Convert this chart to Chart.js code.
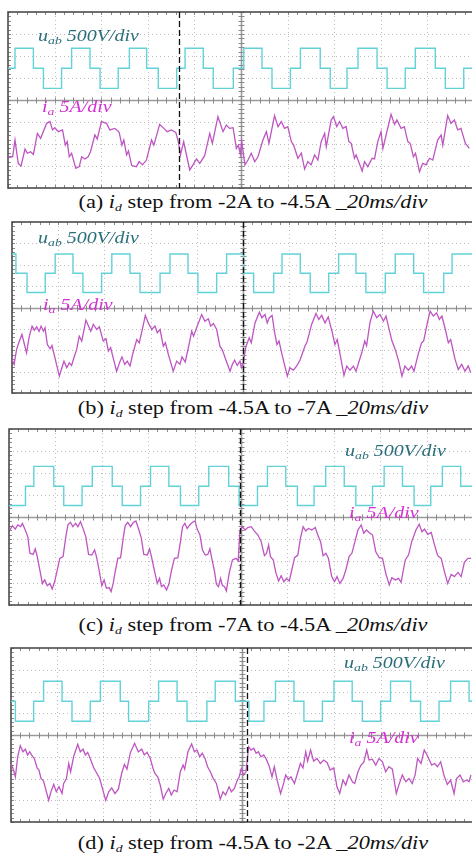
<!DOCTYPE html>
<html>
<head>
<meta charset="utf-8">
<script src="https://cdn.jsdelivr.net/npm/chart.js@4.4.1/dist/chart.umd.min.js"></script>
<style>
  html, body { margin: 0; padding: 0; background: #fff; }
  body { position: relative; width: 472px; height: 854px; overflow: hidden; font-family: "Liberation Serif", "Times New Roman", serif; }
  canvas { position: absolute; }
  .lbl { position: absolute; font-style: italic; font-size: 16px; line-height: 16px; white-space: nowrap; transform: scaleX(1.25); transform-origin: 0 0; }
  .lbl sub, .cap sub { font-size: 11px; vertical-align: -3px; line-height: 0; }
  .u { color: #2b6e7b; }
  .i { color: #d42fd2; }
  .cap { position: absolute; left: 53px; width: 400px; text-align: center; font-size: 18px; line-height: 18px; white-space: nowrap; transform: scaleX(1.24); color: #111; }
</style>
</head>
<body>
<canvas id="scopeA"></canvas>
<canvas id="scopeB"></canvas>
<canvas id="scopeC"></canvas>
<canvas id="scopeD"></canvas>

<div class="lbl u" style="left:38px;top:28px">u<sub>ab</sub> 500V/div</div>
<div class="lbl i" style="left:42px;top:99px">i<sub>a</sub> 5A/div</div>
<div class="lbl u" style="left:38px;top:230px">u<sub>ab</sub> 500V/div</div>
<div class="lbl i" style="left:43px;top:297px">i<sub>a</sub> 5A/div</div>
<div class="lbl u" style="left:345px;top:443px">u<sub>ab</sub> 500V/div</div>
<div class="lbl i" style="left:349px;top:505px">i<sub>a</sub> 5A/div</div>
<div class="lbl u" style="left:344px;top:655px">u<sub>ab</sub> 500V/div</div>
<div class="lbl i" style="left:349px;top:730px">i<sub>a</sub> 5A/div</div>

<div class="cap" style="top:193px">(a) <i>i<sub>d</sub></i> step from -2A to -4.5A _<i>20ms/div</i></div>
<div class="cap" style="top:399px">(b) <i>i<sub>d</sub></i> step from -4.5A to -7A _<i>20ms/div</i></div>
<div class="cap" style="top:616px">(c) <i>i<sub>d</sub></i> step from -7A to -4.5A _<i>20ms/div</i></div>
<div class="cap" style="top:834px">(d) <i>i<sub>d</sub></i> step from -4.5A to -2A _<i>20ms/div</i></div>

<script>
// time in ms (20 ms/div, 10 div), traces in screen divisions (8 div)

// u_ab step waveforms: switching instants and level held after each
const uabA_t = [0, 3.0, 10.9, 15.2, 23.0, 27.3, 35.2, 39.5, 47.3, 52.1, 59.5, 64.5, 72.4, 76.0, 83.8, 88.1, 96.7, 101.2, 109.0, 113.3, 121.2, 125.5, 134.0, 138.3, 145.5, 150.2, 158.4, 162.7, 170.5, 174.8, 183.4, 187.7, 195.6, 200];
const uabA_v = [1.44, 2.35, 1.44, 0.53, 1.44, 2.35, 1.44, 0.53, 1.44, 2.35, 1.44, 0.53, 1.44, 2.35, 1.44, 0.53, 1.44, 2.35, 1.44, 0.53, 1.44, 2.35, 1.44, 0.53, 1.44, 2.35, 1.44, 0.53, 1.44, 2.35, 1.44, 0.53, 1.44, 1.44];

const uabB_t = [0, 1.7, 6.5, 14.4, 18.7, 26.4, 30.7, 38.8, 43.2, 51.1, 55.4, 64.1, 68.4, 76.2, 80.5, 88.6, 92.9, 100.3, 104.6, 113.3, 116.9, 124.8, 129.1, 137.1, 141.4, 148.9, 153.2, 161.6, 165.9, 173.9, 178.2, 186.9, 190.5, 200];
const uabB_v = [2.50, 1.60, 0.70, 1.60, 2.50, 1.60, 0.70, 1.60, 2.50, 1.60, 0.70, 1.60, 2.50, 1.60, 0.70, 1.60, 2.50, 1.60, 0.70, 1.60, 2.50, 1.60, 0.70, 1.60, 2.50, 1.60, 0.70, 1.60, 2.50, 1.60, 0.70, 1.60, 2.50, 2.50];

const uabC_t = [0, 7.1, 10.7, 19.3, 23.6, 31.5, 35.9, 44.5, 48.8, 56.7, 61.0, 68.9, 73.9, 81.8, 86.1, 94.7, 99.2, 107.1, 111.4, 119.3, 124.3, 131.5, 136.5, 144.5, 149.5, 156.7, 161.7, 169.6, 174.6, 181.8, 186.8, 194.7, 200];
const uabC_v = [0.52, 1.40, 2.30, 1.40, 0.52, 1.40, 2.30, 1.40, 0.52, 1.40, 2.30, 1.40, 0.52, 1.40, 2.30, 1.40, 0.52, 1.40, 2.30, 1.40, 0.52, 1.40, 2.30, 1.40, 0.52, 1.40, 2.30, 1.40, 0.52, 1.40, 2.30, 1.40, 1.40];

const uabD_t = [0, 1.9, 9.8, 14.1, 22.1, 26.4, 34.3, 38.7, 47.3, 50.9, 59.6, 63.9, 71.9, 76.2, 84.8, 88.4, 97.1, 103.0, 109.5, 114.5, 122.5, 126.8, 134.8, 139.8, 147.7, 152.1, 160.0, 164.3, 173.0, 177.3, 185.3, 190.3, 198.3, 200];
const uabD_v = [1.55, 0.63, 1.55, 2.47, 1.55, 0.63, 1.55, 2.47, 1.55, 0.63, 1.55, 2.47, 1.55, 0.63, 1.55, 2.47, 1.55, 0.63, 1.55, 2.47, 1.55, 0.63, 1.55, 2.47, 1.55, 0.63, 1.55, 2.47, 1.55, 0.63, 1.55, 2.47, 1.55, 1.55];

// i_a phase current traces (sample time, value)
const iaA_t = [0.1, 2.0, 3.0, 4.4, 5.6, 7.3, 8.3, 9.7, 10.9, 12.6,
  14.0, 16.6, 18.0, 19.1, 20.1, 21.6, 23.4, 24.6, 25.4, 26.3,
  27.3, 29.1, 30.6, 31.6, 33.0, 34.4, 35.4, 37.3, 38.3, 40.1,
  42.3, 43.7, 45.9, 47.7, 48.9, 49.7, 50.9, 51.7, 53.1, 55.1,
  56.3, 57.7, 59.4, 61.6, 62.6, 65.1, 66.9, 68.3, 70.1, 72.0,
  73.1, 74.0, 75.4, 76.6, 78.0, 79.4, 80.9, 82.3, 84.4, 86.6,
  87.7, 90.1, 92.3, 93.7, 95.1, 96.6, 98.0, 98.9, 99.7, 100.3,
  101.7, 103.0, 104.4, 105.9, 107.3, 109.4, 110.9, 112.0, 114.4, 115.9,
  117.3, 118.7, 120.1, 121.6, 122.6, 124.4, 125.9, 127.3, 128.7, 130.1,
  131.6, 133.0, 134.4, 135.9, 136.6, 138.7, 139.7, 141.1, 142.3, 143.7,
  145.1, 146.3, 147.3, 148.7, 149.4, 152.0, 153.0, 154.4, 156.3, 157.3,
  158.7, 160.1, 160.9, 164.4, 165.9, 166.9, 168.7, 170.1, 171.6, 172.6,
  174.0, 174.9, 176.6, 178.0, 179.4, 180.9, 182.3, 184.4, 185.9, 186.6,
  188.7, 190.1, 191.6, 193.0, 194.4, 196.3, 198.0];
const iaA_v = [-2.58, -2.58, -1.82, -2.88, -3.00, -2.23, -2.42, -2.35, -2.47, -1.52,
  -1.74, -1.06, -0.98, -1.36, -1.26, -1.44, -1.36, -2.05, -1.89, -2.58,
  -2.42, -3.11, -3.03, -2.58, -2.68, -2.58, -2.35, -1.59, -1.77, -0.98,
  -1.06, -1.36, -1.29, -1.47, -2.05, -1.82, -2.50, -2.32, -2.98, -3.03,
  -2.80, -2.95, -2.73, -1.82, -2.05, -1.11, -1.29, -1.44, -1.36, -1.47,
  -1.89, -2.50, -1.89, -2.50, -3.18, -2.95, -2.68, -2.88, -2.53, -1.52,
  -1.97, -0.76, -1.44, -1.14, -1.29, -1.26, -2.20, -2.05, -2.47, -1.89,
  -2.95, -2.73, -2.42, -2.80, -2.58, -1.82, -1.44, -1.97, -0.71, -1.21,
  -0.98, -1.29, -1.21, -1.89, -2.05, -2.65, -2.42, -3.14, -2.80, -2.95,
  -2.50, -2.73, -1.89, -1.52, -2.12, -0.91, -0.76, -1.21, -0.98, -1.29,
  -1.21, -1.89, -1.97, -2.65, -2.50, -3.23, -2.80, -3.03, -2.65, -2.68,
  -1.89, -1.44, -2.20, -0.65, -1.11, -0.91, -1.29, -1.21, -1.89, -1.97,
  -2.58, -2.42, -3.26, -2.88, -2.95, -2.65, -2.73, -1.82, -1.59, -2.05,
  -0.71, -1.06, -0.91, -1.36, -1.29, -1.97, -2.20];

const iaB_t = [0, 0.9, 2.0, 3.2, 4.3, 5.2, 6.3, 7.5, 8.7, 9.7,
  10.7, 11.7, 12.6, 13.6, 14.3, 15.3, 16.5, 17.3, 18.5, 20.5,
  21.6, 22.5, 23.7, 24.8, 25.8, 26.8, 28.0, 29.1, 30.2, 32.0,
  33.0, 34.1, 35.2, 36.7, 37.8, 39.5, 40.7, 41.7, 42.7, 43.9,
  45.3, 46.8, 47.6, 48.8, 49.9, 51.1, 52.2, 54.0, 55.1, 56.9,
  57.7, 59.0, 60.5, 61.9, 62.9, 64.1, 65.5, 66.4, 67.7, 69.8,
  71.3, 72.7, 73.6, 75.0, 76.5, 77.8, 78.6, 79.9, 82.1, 83.5,
  85.0, 86.0, 87.2, 88.6, 90.0, 91.1, 92.4, 94.4, 95.4, 96.4,
  97.5, 98.7, 99.3, 100.1, 101.3, 102.7, 103.6, 105.2, 107.1, 108.2,
  109.5, 110.5, 111.4, 112.6, 113.7, 114.7, 115.6, 116.9, 118.3, 119.2,
  120.3, 121.8, 123.2, 124.7, 126.8, 127.7, 129.7, 131.6, 132.8, 134.1,
  135.5, 136.9, 138.5, 139.8, 140.8, 142.3, 143.7, 144.9, 146.3, 147.8,
  148.9, 151.4, 152.7, 153.5, 155.0, 156.4, 157.9, 159.3, 160.8, 161.9,
  163.6, 164.5, 165.9, 167.4, 168.8, 170.1, 171.6, 173.0, 174.0, 176.0,
  177.3, 178.2, 179.5, 181.0, 182.4, 183.8, 185.0, 186.1, 187.6, 188.9,
  189.9, 191.8, 193.2, 194.7, 196.1, 197.5, 198.6];
const iaB_v = [-2.43, -2.66, -1.96, -1.57, -1.26, -1.65, -2.12, -1.34, -0.87, -1.06,
  -0.90, -1.12, -0.87, -1.11, -0.95, -1.73, -1.93, -1.78, -2.31, -3.21,
  -2.82, -2.51, -2.82, -2.59, -2.71, -2.35, -1.96, -1.34, -1.57, -0.59,
  -0.84, -1.11, -0.79, -1.03, -0.90, -1.57, -1.46, -2.04, -1.88, -2.40,
  -2.98, -2.51, -2.31, -2.66, -2.51, -2.74, -2.20, -1.50, -1.65, -0.79,
  -0.37, -0.72, -1.03, -0.87, -1.18, -1.03, -1.81, -1.65, -2.20, -2.98,
  -2.51, -2.66, -2.31, -2.55, -1.81, -1.11, -1.34, -0.95, -0.33, -0.64,
  -0.53, -0.87, -0.75, -1.03, -1.81, -1.99, -2.40, -2.98, -2.66, -2.46,
  -2.71, -2.51, -2.82, -2.59, -1.81, -1.42, -1.65, -0.72, -0.22, -0.48,
  -0.33, -0.72, -0.48, -0.37, -1.18, -1.73, -1.57, -2.20, -2.82, -3.21,
  -2.82, -2.93, -2.74, -2.46, -1.81, -1.62, -0.79, -0.28, -0.56, -0.37,
  -0.72, -0.44, -1.11, -1.73, -1.50, -2.35, -3.18, -2.74, -2.93, -2.74,
  -2.98, -2.12, -1.57, -1.78, -0.69, -0.17, -0.48, -0.33, -0.64, -0.40,
  -1.18, -1.57, -1.96, -2.51, -3.21, -2.74, -2.93, -2.74, -2.98, -2.12,
  -1.65, -1.57, -0.87, -0.17, -0.40, -0.25, -0.56, -0.40, -1.03, -1.65,
  -1.50, -2.43, -2.90, -2.66, -2.98, -2.74, -3.05];

const iaC_t = [0.4, 1.5, 2.7, 3.8, 5.0, 5.8, 7.0, 8.1, 9.0, 10.4,
  11.3, 12.1, 13.3, 14.4, 15.4, 16.5, 17.6, 18.6, 19.6, 20.8,
  21.9, 23.3, 24.5, 25.4, 26.5, 27.5, 28.7, 29.7, 30.8, 32.0,
  33.1, 34.3, 35.7, 36.9, 37.7, 38.9, 40.0, 41.0, 42.0, 43.2,
  44.0, 44.9, 45.9, 46.9, 48.1, 49.2, 50.1, 51.2, 52.4, 53.5,
  54.7, 55.8, 57.0, 58.1, 59.6, 60.6, 61.4, 62.7, 63.9, 64.9,
  65.7, 66.7, 67.9, 68.9, 70.0, 71.3, 72.8, 73.9, 74.8, 75.8,
  76.8, 77.9, 79.1, 80.2, 81.1, 82.3, 83.4, 84.6, 85.7, 86.6,
  87.4, 88.6, 89.4, 90.3, 91.2, 92.0, 92.9, 93.7, 94.9, 96.3,
  97.8, 98.8, 99.5, 100.6, 101.8, 102.9, 104.4, 105.8, 107.3, 108.7,
  110.1, 111.0, 111.9, 112.7, 113.9, 115.0, 116.2, 117.3, 118.5, 119.6,
  120.8, 121.9, 123.1, 124.5, 125.6, 126.8, 127.9, 129.1, 130.5, 132.0,
  133.1, 134.3, 135.4, 136.6, 137.7, 139.1, 140.3, 141.4, 142.6, 144.0,
  145.2, 146.6, 147.8, 148.9, 150.4, 151.8, 152.9, 154.1, 155.2, 156.7,
  158.1, 159.6, 161.0, 162.4, 163.9, 165.0, 166.5, 167.9, 169.0, 170.8,
  172.2, 173.6, 175.4, 176.8, 178.0, 179.1, 180.5, 182.0, 183.4, 184.8,
  186.3, 187.7, 189.1, 190.6, 192.0, 193.5, 194.9, 196.3, 197.8, 199.2];
const iaC_v = [-0.59, -0.39, -0.55, -0.36, -0.44, -0.29, -0.59, -0.89, -1.65, -1.70,
  -1.45, -1.76, -2.41, -3.02, -2.86, -3.12, -3.02, -3.27, -2.97, -2.41,
  -1.88, -1.80, -0.89, -0.36, -0.24, -0.44, -0.29, -0.44, -0.21, -0.55,
  -0.89, -1.70, -1.73, -1.50, -1.80, -2.45, -3.12, -2.86, -3.24, -3.21,
  -3.39, -3.02, -2.41, -1.88, -1.85, -0.97, -0.39, -0.24, -0.44, -0.26,
  -0.18, -0.52, -0.94, -1.70, -1.73, -1.45, -1.80, -2.45, -3.02, -2.79,
  -3.17, -3.09, -3.32, -3.06, -2.45, -1.88, -1.85, -1.12, -0.44, -0.29,
  -0.52, -0.36, -0.24, -0.18, -0.55, -0.82, -1.50, -1.73, -1.70, -1.45,
  -1.88, -2.48, -3.06, -3.17, -2.79, -3.12, -3.17, -3.36, -2.56, -1.95,
  -1.88, -2.00, -0.67, -0.44, -0.59, -0.48, -0.44, -0.64, -0.82, -1.12,
  -1.76, -1.65, -1.27, -1.80, -1.95, -2.52, -2.91, -2.67, -2.94, -2.79,
  -2.91, -2.41, -1.85, -1.73, -0.97, -0.44, -0.64, -0.52, -0.59, -0.48,
  -0.82, -1.12, -1.76, -1.65, -1.88, -2.71, -2.94, -2.71, -3.02, -2.79,
  -2.41, -1.80, -1.65, -1.20, -0.59, -0.36, -0.74, -0.59, -0.70, -0.82,
  -1.58, -1.85, -1.88, -2.56, -3.09, -2.76, -2.86, -2.79, -2.97, -1.95,
  -1.73, -1.12, -0.59, -0.33, -0.67, -0.55, -0.79, -0.70, -1.27, -1.76,
  -1.88, -2.48, -3.02, -2.61, -2.71, -2.52, -2.71, -2.06, -1.88, -1.88];

const iaD_t = [0, 0.9, 1.9, 2.9, 4.0, 5.2, 6.2, 7.2, 8.1, 9.1,
  10.1, 11.3, 12.1, 13.0, 14.1, 16.3, 17.3, 18.5, 19.6, 20.8,
  22.1, 22.8, 24.0, 25.0, 25.8, 27.1, 28.9, 30.0, 31.2, 32.2,
  33.2, 34.3, 35.8, 37.2, 38.4, 39.5, 41.0, 42.3, 43.6, 45.0,
  46.5, 47.9, 49.1, 50.2, 51.7, 53.5, 55.1, 56.6, 57.7, 58.9,
  60.3, 61.5, 62.3, 63.5, 64.6, 65.9, 67.0, 68.3, 69.4, 70.6,
  71.9, 73.3, 74.5, 75.2, 76.6, 78.2, 79.4, 80.5, 81.7, 82.8,
  84.0, 85.1, 86.3, 87.4, 88.9, 90.6, 91.8, 92.9, 94.4, 95.4,
  96.7, 98.0, 98.8, 99.7, 100.7, 101.7, 102.9, 103.9, 105.1, 106.1,
  107.1, 108.2, 109.4, 110.5, 111.7, 113.0, 114.0, 115.3, 116.7, 117.9,
  118.9, 120.2, 121.2, 122.7, 124.0, 125.3, 126.4, 127.6, 128.4, 129.7,
  131.0, 132.5, 133.9, 135.4, 136.8, 138.2, 139.7, 141.1, 142.3, 143.7,
  144.9, 146.3, 147.8, 148.8, 150.2, 151.5, 152.7, 154.0, 155.0, 156.4,
  157.9, 159.3, 160.8, 162.2, 163.6, 165.1, 166.8, 168.0, 169.4, 170.9,
  172.3, 173.7, 175.0, 176.0, 177.5, 178.9, 180.1, 181.1, 182.1, 183.4,
  184.6, 186.0, 187.4, 188.9, 190.3, 191.8, 192.9, 194.4, 195.8, 197.3,
  198.3, 199.1];
const iaD_v = [-1.31, -1.54, -1.92, -1.00, -0.49, -0.77, -0.65, -0.92, -0.77, -0.95,
  -1.08, -1.51, -1.61, -2.00, -2.12, -3.00, -2.61, -2.27, -2.61, -2.38,
  -2.69, -2.23, -2.00, -1.31, -1.69, -1.00, -0.43, -0.77, -0.65, -0.92,
  -0.80, -1.08, -1.51, -1.77, -2.00, -2.43, -3.00, -2.61, -2.43, -2.69,
  -2.49, -1.77, -1.35, -1.57, -0.80, -0.38, -0.77, -0.65, -0.92, -0.80,
  -1.08, -1.54, -1.77, -1.92, -2.30, -2.95, -2.69, -2.46, -2.76, -2.53,
  -2.61, -1.69, -1.38, -1.57, -0.77, -0.41, -0.77, -0.69, -1.00, -0.84,
  -1.08, -1.46, -1.69, -1.97, -2.23, -2.95, -2.61, -2.76, -2.38, -2.61,
  -2.46, -2.07, -1.92, -1.54, -1.84, -1.69, -0.54, -0.69, -0.61, -0.84,
  -0.77, -1.00, -0.92, -1.11, -1.41, -1.92, -1.46, -2.12, -2.69, -2.27,
  -1.84, -2.03, -1.92, -2.23, -1.77, -1.31, -1.51, -0.77, -1.20, -0.69,
  -1.20, -1.08, -1.31, -1.15, -1.26, -1.61, -1.51, -2.38, -2.69, -2.07,
  -2.30, -1.84, -2.15, -2.23, -1.69, -1.38, -1.26, -0.69, -1.15, -1.11,
  -1.38, -1.08, -1.23, -1.69, -1.46, -1.57, -2.69, -2.27, -1.84, -2.15,
  -2.00, -2.23, -1.81, -1.08, -1.31, -0.69, -0.92, -1.15, -1.38, -1.31,
  -1.46, -1.23, -1.84, -2.27, -2.07, -2.69, -2.00, -1.84, -2.15, -2.07,
  -2.15, -1.84];

// instant of the i_d step (dashed marker), ms
const stepTimes = [73.5, 100.0, 99.6, 102.3];

// screen position of each scope frame (px)
const frames = [
  { id: 'scopeA', left: 8, top: 12, w: 466, h: 176 },
  { id: 'scopeB', left: 12, top: 222, w: 462, h: 171 },
  { id: 'scopeC', left: 9, top: 429, w: 464, h: 176 },
  { id: 'scopeD', left: 11, top: 648, w: 462, h: 174 }
];

const PAD = 3;

const scopeGrid = {
  id: 'scopeGrid',
  beforeDatasetsDraw(chart) {
    const { ctx, chartArea: a, scales: { x, y } } = chart;
    ctx.save();
    // dotted division grid
    ctx.lineWidth = 1;
    ctx.strokeStyle = '#bcbcbc';
    ctx.setLineDash([1, 3]);
    for (let i = 1; i < 10; i++) {
      if (i === 5) continue;
      const px = Math.round(x.getPixelForValue(i * 20)) + 0.5;
      ctx.beginPath(); ctx.moveTo(px, a.top); ctx.lineTo(px, a.bottom); ctx.stroke();
    }
    for (let j = -3; j <= 3; j++) {
      if (j === 0) continue;
      const py = Math.round(y.getPixelForValue(j)) + 0.5;
      ctx.beginPath(); ctx.moveTo(a.left, py); ctx.lineTo(a.right, py); ctx.stroke();
    }
    // centre axes with minor ticks
    ctx.setLineDash([]);
    const cx = Math.round(x.getPixelForValue(100)) + 0.5;
    const cy = Math.round(y.getPixelForValue(0)) + 0.5;
    ctx.strokeStyle = '#9a9a9a';
    ctx.lineWidth = 1.6;
    ctx.beginPath(); ctx.moveTo(a.left, cy); ctx.lineTo(a.right, cy); ctx.stroke();
    ctx.beginPath(); ctx.moveTo(cx, a.top); ctx.lineTo(cx, a.bottom); ctx.stroke();
    ctx.lineWidth = 1;
    ctx.strokeStyle = '#8a8a8a';
    for (let k = 0; k <= 50; k++) {
      const px = Math.round(x.getPixelForValue(k * 4)) + 0.5;
      ctx.beginPath(); ctx.moveTo(px, cy - 3); ctx.lineTo(px, cy + 3); ctx.stroke();
      ctx.beginPath(); ctx.moveTo(px, a.top); ctx.lineTo(px, a.top + 3); ctx.stroke();
      ctx.beginPath(); ctx.moveTo(px, a.bottom - 3); ctx.lineTo(px, a.bottom); ctx.stroke();
    }
    for (let k = -20; k <= 20; k++) {
      const py = Math.round(y.getPixelForValue(k * 0.2)) + 0.5;
      ctx.beginPath(); ctx.moveTo(cx - 3, py); ctx.lineTo(cx + 3, py); ctx.stroke();
      ctx.beginPath(); ctx.moveTo(a.left, py); ctx.lineTo(a.left + 3, py); ctx.stroke();
    }
    // frame
    ctx.strokeStyle = '#4d4d4d';
    ctx.lineWidth = 1.6;
    ctx.strokeRect(a.left, a.top, a.right - a.left, a.bottom - a.top);
    ctx.restore();
  },
  afterDatasetsDraw(chart, args, opts) {
    const { ctx, chartArea: a, scales: { x } } = chart;
    const px = Math.round(x.getPixelForValue(opts.stepAt)) + 0.5;
    ctx.save();
    ctx.strokeStyle = '#111';
    ctx.lineWidth = 1.3;
    ctx.setLineDash([6, 3]);
    ctx.beginPath(); ctx.moveTo(px, a.top); ctx.lineTo(px, a.bottom); ctx.stroke();
    ctx.restore();
  }
};

const toPoints = (t, v) => t.map((tt, i) => ({ x: tt, y: v[i] }));

function makeScope(frame, uT, uV, iT, iV, stepAt) {
  const canvas = document.getElementById(frame.id);
  canvas.width = frame.w + 2 * PAD;
  canvas.height = frame.h + 2 * PAD;
  canvas.style.left = (frame.left - PAD) + 'px';
  canvas.style.top = (frame.top - PAD) + 'px';
  return new Chart(canvas.getContext('2d'), {
    type: 'line',
    data: {
      datasets: [{
        label: 'uab',
        data: toPoints(uT, uV),
        stepped: true,
        borderColor: '#62d2d8',
        borderWidth: 1.4,
        pointRadius: 0
      }, {
        label: 'ia',
        data: toPoints(iT, iV),
        borderColor: '#bd55c2',
        borderWidth: 1.3,
        pointRadius: 0,
        tension: 0
      }]
    },
    options: {
      responsive: false,
      animation: false,
      devicePixelRatio: 1,
      layout: { padding: PAD },
      plugins: {
        legend: { display: false },
        tooltip: { enabled: false },
        scopeGrid: { stepAt: stepAt }
      },
      scales: {
        x: { type: 'linear', min: 0, max: 200, display: false },
        y: { type: 'linear', min: -4, max: 4, display: false }
      }
    },
    plugins: [scopeGrid]
  });
}

makeScope(frames[0], uabA_t, uabA_v, iaA_t, iaA_v, stepTimes[0]);
makeScope(frames[1], uabB_t, uabB_v, iaB_t, iaB_v, stepTimes[1]);
makeScope(frames[2], uabC_t, uabC_v, iaC_t, iaC_v, stepTimes[2]);
makeScope(frames[3], uabD_t, uabD_v, iaD_t, iaD_v, stepTimes[3]);
</script>
</body>
</html>
